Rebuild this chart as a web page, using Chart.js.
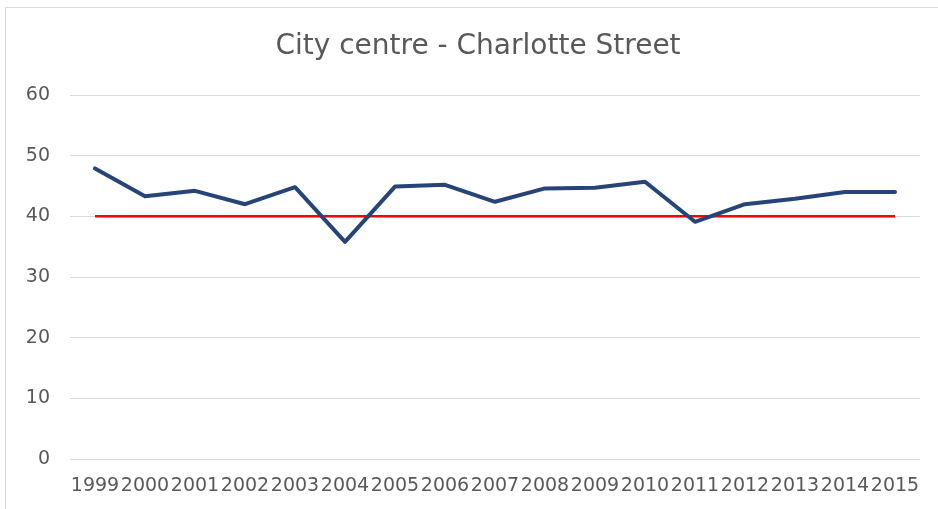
<!DOCTYPE html>
<html>
<head>
<meta charset="utf-8">
<script src="https://cdn.jsdelivr.net/npm/chart.js@4.4.1/dist/chart.umd.min.js"></script>
<style>
  html, body { margin: 0; padding: 0; background: #ffffff; }
  #frame { position: absolute; left: 5px; top: 7px; width: 940px; height: 510px; border: 1px solid #d9d9d9; box-sizing: border-box; }
  #wrap { position: absolute; left: 0; top: 0; width: 938px; height: 509px; }
</style>
</head>
<body>
<div id="frame"></div>
<div id="wrap"><canvas id="c" width="938" height="509"></canvas></div>
<script>
const categories = ["1999","2000","2001","2002","2003","2004","2005","2006","2007","2008","2009","2010","2011","2012","2013","2014","2015"];
const charlotteStreet = [47.9, 43.3, 44.2, 42.0, 44.8, 35.8, 44.9, 45.2, 42.4, 44.6, 44.7, 45.7, 39.1, 42.0, 42.9, 44.0, 44.0];
const limitValues = [40, 40, 40, 40, 40, 40, 40, 40, 40, 40, 40, 40, 40, 40, 40, 40, 40];
const yTicks = [0, 10, 20, 30, 40, 50, 60];
const titleText = "City centre - Charlotte Street";

const labelFont = { family: "'DejaVu Sans', sans-serif", size: 19 };

const titleShift = {
  id: 'titleShift',
  afterLayout(chart) {
    if (chart.titleBlock) { chart.titleBlock.left += 36; }
  }
};

new Chart(document.getElementById('c'), {
  type: 'line',
  data: {
    labels: categories,
    datasets: [
      {
        label: 'Limit',
        data: limitValues,
        borderColor: '#ff0000',
        borderWidth: 2.5,
        pointRadius: 0,
        tension: 0,
        order: 2
      },
      {
        label: 'Charlotte Street',
        data: charlotteStreet,
        borderColor: '#264478',
        borderWidth: 4,
        pointRadius: 0,
        tension: 0,
        borderJoinStyle: 'round',
        borderCapStyle: 'round',
        order: 1
      }
    ]
  },
  plugins: [titleShift],
  options: {
    responsive: false,
    animation: false,
    layout: { padding: { left: 0, right: 18, top: 0, bottom: 0 } },
    plugins: {
      legend: { display: false },
      tooltip: { enabled: false },
      title: {
        display: true,
        text: titleText,
        color: '#595959',
        font: { family: "'DejaVu Sans', sans-serif", size: 28, weight: 'normal' },
        padding: { top: 30.2, bottom: 31.2 }
      }
    },
    scales: {
      x: {
        offset: true,
        afterFit: (scale) => { scale.height = 50; },
        grid: { display: false, drawTicks: false },
        border: { display: false },
        ticks: {
          color: '#595959',
          font: labelFont,
          autoSkip: false,
          maxRotation: 0,
          minRotation: 0,
          padding: 16
        }
      },
      y: {
        min: 0,
        max: 60,
        afterBuildTicks: (scale) => { scale.ticks = yTicks.map(v => ({ value: v })); },
        afterFit: (scale) => { scale.width = 70; },
        grid: { color: '#d9d9d9', lineWidth: 1, drawTicks: false },
        border: { display: false },
        ticks: {
          color: '#595959',
          font: labelFont,
          padding: 20
        }
      }
    }
  }
});
</script>
</body>
</html>
